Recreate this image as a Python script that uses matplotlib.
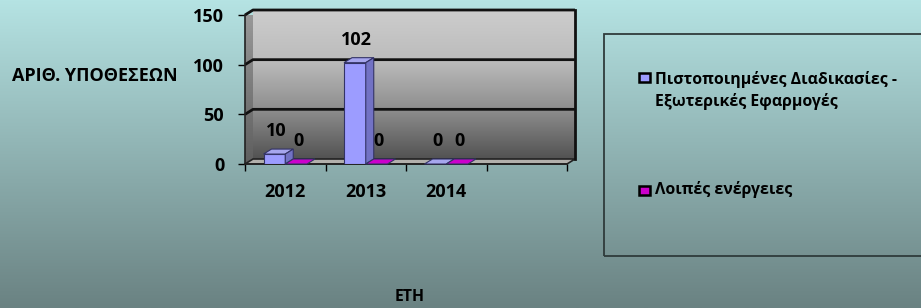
import numpy as np
import matplotlib
matplotlib.use("Agg")
import matplotlib.pyplot as plt
from matplotlib.patches import Polygon, Rectangle
from matplotlib.colors import LinearSegmentedColormap

plt.rcParams["font.family"] = ["Open Sans", "DejaVu Sans"]
plt.rcParams["font.weight"] = "bold"

# data
categories = ["2012", "2013", "2014", ""]
series_names = ["Πιστοποιημένες Διαδικασίες -\nΕξωτερικές Εφαρμογές", "Λοιπές ενέργειες"]
certified = [10, 102, 0]
other = [0, 0, 0]
yticks = [0, 50, 100, 150]

W, H = 921, 308
fig = plt.figure(figsize=(W / 100, H / 100), dpi=100)
renderer = fig.canvas.get_renderer()


def fit_size(s, target_px):
    # font size that gives text s the pixel width seen in the reference
    t = fig.text(0, 0, s, fontsize=10, fontweight="bold")
    w = t.get_window_extent(renderer).width
    t.remove()
    return 10 * target_px / w


num_fs = fit_size("102", 31)
year_fs = fit_size("2012", 41)
ylab_fs = fit_size("ΑΡΙΘ. ΥΠΟΘΕΣΕΩΝ", 166)
xlab_fs = fit_size("ΕΤΗ", 30)
leg_fs = fit_size(series_names[0].split("\n")[0], 242)

# background gradient
bg = fig.add_axes([0, 0, 1, 1], zorder=-10)
bg_cmap = LinearSegmentedColormap.from_list("bg", ["#b5e3e3", "#8fb2b2", "#6a8282"])
bg.imshow(np.linspace(0, 1, 256).reshape(-1, 1), cmap=bg_cmap, aspect="auto",
          extent=(0, 1, 0, 1), origin="upper")
bg.set_axis_off()

# front plane of the 3D box (pixel frame of the reference)
x0, x1, y_top, y_bot = 245, 567, 15, 164
ax = fig.add_axes([x0 / W, (H - y_bot) / H, (x1 - x0) / W, (y_bot - y_top) / H])
n_slots = len(categories)
ax.patch.set_visible(False)

# depth offset of the box, in data units (8 px right, 5 px up)
DX = n_slots * 8 / (x1 - x0)
DY = 150 * 5 / (y_bot - y_top)

# back wall with grey gradient
wall_cmap = LinearSegmentedColormap.from_list("wall", ["#cdcdcd", "#bcbcbc", "#8e8e8e", "#525252"])
ax.imshow(np.linspace(0, 1, 256).reshape(-1, 1), cmap=wall_cmap, aspect="auto",
          extent=(DX, n_slots + DX, DY, 150 + DY), origin="upper", zorder=0, clip_on=False)

# side wall
side = Polygon([(0, 0), (DX, DY), (DX, 150 + DY), (0, 150)], closed=True,
               facecolor="none", edgecolor="none", zorder=1)
ax.add_patch(side)
side_img = ax.imshow(np.linspace(0, 1, 256).reshape(-1, 1),
                     cmap=LinearSegmentedColormap.from_list("side", ["#9a9a9a", "#5e5e5e"]),
                     aspect="auto", extent=(0, DX, 0, 150 + DY), origin="upper", zorder=1)
side_img.set_clip_path(side)
ax.set_xlim(0, n_slots)
ax.set_ylim(0, 150)

# floor
ax.add_patch(Polygon([(0, 0), (n_slots, 0), (n_slots + DX, DY), (DX, DY)], closed=True,
                     facecolor="#b2b0ac", edgecolor="#222222", lw=1.2, zorder=2, clip_on=False))

# gridlines on back and side wall
for v in yticks[1:]:
    ax.plot([0, DX, n_slots + DX], [v, v + DY, v + DY], color="#111111", lw=2,
            zorder=3, clip_on=False, solid_capstyle="butt")
ax.plot([n_slots + DX, n_slots + DX], [DY, 150 + DY], color="#111111", lw=2, zorder=3, clip_on=False)
ax.plot([0, 0], [0, 150], color="#222222", lw=1.2, zorder=3, clip_on=False)

# 3D columns
bw = 0.27
colors = [("#9c9cff", "#a6a6ee", "#7272c4"), ("#cc00cc", "#cc00cc", "#990099")]
for s, vals in enumerate([certified, other]):
    front, top, sidec = colors[s]
    xs = np.arange(len(vals)) + 0.5 + (s - 1) * bw
    ax.bar(xs, vals, width=bw, align="edge", color=front, edgecolor="#333366",
           lw=0.8, zorder=5 + s)
    for xl, v in zip(xs, vals):
        xr = xl + bw
        ax.add_patch(Polygon([(xl, v), (xr, v), (xr + DX, v + DY), (xl + DX, v + DY)],
                             closed=True, facecolor=top, edgecolor="#333366", lw=0.8,
                             zorder=5 + s, clip_on=False))
        if v > 0:
            ax.add_patch(Polygon([(xr, 0), (xr + DX, DY), (xr + DX, v + DY), (xr, v)],
                                 closed=True, facecolor=sidec, edgecolor="#333366", lw=0.8,
                                 zorder=5 + s, clip_on=False))
        ax.annotate(str(v), (xl + bw / 2, v), xytext=(2, 23), textcoords="offset pixels",
                    ha="center", va="center", fontsize=num_fs, fontweight="bold", zorder=10)

# axes, ticks
for sp in ["top", "right", "left"]:
    ax.spines[sp].set_visible(False)
ax.spines["bottom"].set_color("#222222")
ax.spines["bottom"].set_linewidth(1.2)
ax.set_yticks(yticks)
ax.set_yticklabels([str(t) for t in yticks], fontsize=num_fs, fontweight="bold")
ax.tick_params(axis="y", direction="out", length=5, width=1, pad=10)
ax.set_xticks(np.arange(n_slots + 1))
ax.set_xticklabels([])
ax.set_xticks(np.arange(n_slots) + 0.5, minor=True)
ax.set_xticklabels(categories, minor=True, fontsize=year_fs, fontweight="bold")
ax.tick_params(axis="x", which="major", direction="out", length=5, width=1)
ax.tick_params(axis="x", which="minor", length=0, pad=14)

fig.text(12 / W, 1 - 76 / H, "ΑΡΙΘ. ΥΠΟΘΕΣΕΩΝ", ha="left", va="center",
         fontsize=ylab_fs, fontweight="bold")
fig.text(410 / W, 1 - 297 / H, "ΕΤΗ", ha="center", va="center",
         fontsize=xlab_fs, fontweight="bold")

# legend box
fig.patches.append(Rectangle((604 / W, 1 - 256 / H), 330 / W, 222 / H, transform=fig.transFigure,
                             facecolor="none", edgecolor="#2f3b3b", lw=1.3))
leg_y = [90.5, 190]
for name, (front, _, _), yy in zip(series_names, colors, leg_y):
    sq_y = 78 if "\n" in name else yy
    fig.patches.append(Rectangle((639 / W, 1 - (sq_y + 4.5) / H), 11 / W, 9 / H,
                                 transform=fig.transFigure, facecolor=front,
                                 edgecolor="black", lw=1.8))
    fig.text(655 / W, 1 - yy / H, name, ha="left", va="center", fontsize=leg_fs,
             fontweight="bold", linespacing=1.45)

fig.savefig("out.png", dpi=100)
